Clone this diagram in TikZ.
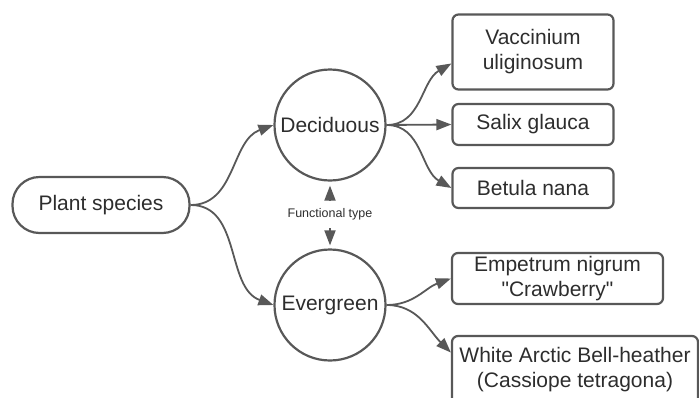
\documentclass[tikz,border=0pt]{standalone}
\usepackage{fontspec}
\setmainfont{Liberation Sans}
\newfontfamily\plainquotes{Liberation Sans}
\usetikzlibrary{arrows.meta}
\definecolor{linegray}{RGB}{88,88,88}
\definecolor{textgray}{RGB}{45,45,45}

\begin{document}
\begin{tikzpicture}[x=1pt,y=1pt]
            \tikzstyle{every node}+=[text=textgray,font=\fontsize{21}{25}\selectfont,align=center]
            \tikzstyle{root}=[draw=linegray,line width=2.2pt,rounded corners=27pt,minimum width=177pt,minimum height=56pt]
            \tikzstyle{group}=[draw=linegray,line width=2.2pt,circle,minimum size=111pt,inner sep=0pt]
            \tikzstyle{species}=[draw=linegray,line width=2.2pt,rounded corners=6pt,inner sep=0pt]
            \tikzstyle{link}=[draw=linegray,line width=1.8pt,-{Triangle[length=15pt,width=11pt]}]
            \useasboundingbox (0,0) rectangle (699,-397);
            \clip (0,0) rectangle (699,-397);
            % root and the two groups
            \node [root] (plant) at (101,-205) {Plant species};
            \node [group] (decid) at (330,-125) {Deciduous};
            \node [group] (ever) at (330,-305) {Evergreen};
            \node [font=\fontsize{12.5}{15}\selectfont,inner sep=0pt] (ftype) at (330,-214) {Functional type};
            % species boxes
            \node [species,minimum width=161pt,minimum height=75pt] (vacc) at (533,-52) {Vaccinium\\uliginosum};
            \node [species,minimum width=161pt,minimum height=41pt] (salix) at (533,-124.5) {Salix glauca};
            \node [species,minimum width=161pt,minimum height=40pt] (betula) at (533,-188) {Betula nana};
            \node [species,minimum width=211pt,minimum height=51pt] (empet) at (557.5,-278.5) {Empetrum nigrum\\{\plainquotes"Crawberry"}};
            \node [species,minimum width=246pt,minimum height=68pt] (cass) at (575,-370) {White Arctic Bell-heather\\(Cassiope tetragona)};
            % connectors
            \draw [link] (plant.east) to [out=0,in=200] (decid.west);
            \draw [link] (plant.east) to [out=0,in=160] (ever.west);
            \draw [link,shorten <=8pt,shorten >=4pt] (ftype.north) -- (decid.south);
            \draw [link,shorten <=8pt,shorten >=3pt] (ftype.south) -- (ever.north);
            \draw [link] (decid.east) to [out=0,in=210] (vacc.188);
            \draw [link] (decid.east) -- (salix.west);
            \draw [link] (decid.east) to [out=0,in=150] (betula.west);
            \draw [link] (ever.east) to [out=0,in=200] (empet.west);
            \draw [link] (ever.east) to [out=0,in=135] (cass.172);
\end{tikzpicture}
\end{document}
